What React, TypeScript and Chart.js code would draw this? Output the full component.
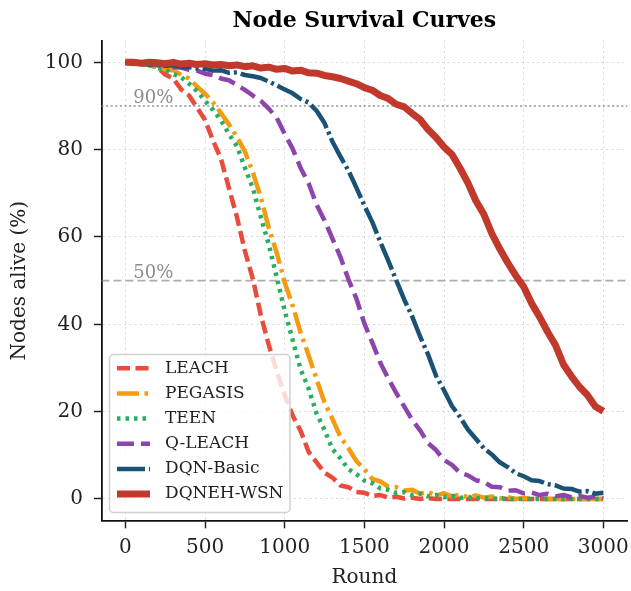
import React, { useEffect, useRef } from "react";
import { Chart, registerables } from "chart.js";

Chart.register(...registerables);

const FONT = "'DejaVu Serif', serif";

const chartTitle = "Node Survival Curves";
const xTitle = "Round";
const yTitle = "Nodes alive (%)";

const xTicks = [0, 500, 1000, 1500, 2000, 2500, 3000];
const yTicks = [0, 20, 40, 60, 80, 100];

const refLevels = [90, 50];
const refLabels = ["90%", "50%"];
const refLabelX = 50;

const rounds = [
  0, 50, 100, 150, 200, 250, 300, 350, 400, 450, 500, 550, 600, 650, 700, 750,
  800, 850, 900, 950, 1000, 1050, 1100, 1150, 1200, 1250, 1300, 1350, 1400,
  1450, 1500, 1550, 1600, 1650, 1700, 1750, 1800, 1850, 1900, 1950, 2000, 2050,
  2100, 2150, 2200, 2250, 2300, 2350, 2400, 2450, 2500, 2550, 2600, 2650, 2700,
  2750, 2800, 2850, 2900, 2950, 3000,
];

const seriesNames = ["LEACH", "PEGASIS", "TEEN", "Q-LEACH", "DQN-Basic", "DQNEH-WSN"];
const seriesColors = ["#e74c3c", "#f39c12", "#27ae60", "#8e44ad", "#1a5276", "#c0392b"];

const leach = [
  100, 99.8, 100, 99.3, 98.9, 97.2, 96.3, 93.8, 92.4, 89.6, 86.8, 82.1, 77.9,
  71.2, 64.6, 56.8, 50.4, 42.1, 35.3, 29.2, 23.8, 19.1, 15.6, 10.8, 8.4, 6.0,
  4.9, 3.1, 2.7, 1.6, 1.4, 0.7, 0.9, 0.3, 0.5, 0.1, 0.3, 0, 0.2, 0, 0, 0, 0, 0,
  0, 0, 0, 0, 0, 0, 0, 0, 0, 0, 0, 0, 0, 0, 0, 0, 0,
];
const pegasis = [
  100, 99.6, 99.9, 99.2, 99.1, 98.3, 98.2, 97.1, 96.3, 94.4, 92.8, 90.8, 88.4,
  85.8, 82.9, 79.6, 74.8, 69.1, 62.1, 56.4, 49.6, 44.3, 38.1, 32.9, 27.4, 22.1,
  18.3, 14.2, 11.6, 8.7, 6.8, 4.6, 4.0, 2.8, 2.7, 1.9, 2.1, 1.2, 1.6, 0.8, 1.3,
  0.6, 1.0, 0.4, 0.8, 0.3, 0.6, 0.1, 0.4, 0, 0.2, 0, 0.1, 0, 0, 0, 0, 0, 0, 0, 0,
];
const teen = [
  100, 99.8, 99.4, 99.6, 98.7, 98.4, 97.3, 96.6, 95.1, 93.4, 91.2, 89.1, 86.7,
  83.6, 80.8, 75.9, 71.2, 64.6, 58.3, 50.8, 43.1, 36.4, 29.7, 25.3, 19.6, 15.8,
  11.4, 9.3, 6.8, 5.7, 4.2, 3.6, 2.4, 2.1, 1.4, 1.6, 0.9, 1.2, 0.6, 0.9, 0.4,
  0.7, 0.2, 0.5, 0.1, 0.3, 0, 0.2, 0, 0, 0, 0, 0, 0, 0, 0, 0, 0, 0, 0, 0,
];
const qleach = [
  100, 99.9, 99.6, 99.8, 99.3, 99.4, 98.9, 98.8, 98.3, 98.1, 97.4, 97.1, 96.3,
  95.9, 94.8, 93.7, 92.4, 91.2, 89.4, 87.3, 83.6, 80.2, 75.8, 72.3, 67.4, 63.8,
  59.6, 55.4, 50.3, 45.9, 40.2, 35.8, 31.2, 27.6, 24.3, 21.2, 18.1, 15.7, 12.8,
  11.2, 8.9, 7.8, 6.0, 5.4, 4.3, 3.9, 2.8, 2.7, 1.9, 2.0, 1.3, 1.5, 0.9, 1.2,
  0.6, 0.9, 0.4, 0.7, 0.3, 0.5, 0.2,
];
const dqnBasic = [
  100, 99.7, 99.9, 99.5, 99.6, 99.2, 99.3, 98.9, 98.9, 98.6, 98.5, 98.1, 98.2,
  97.6, 97.7, 97.1, 96.8, 96.4, 95.6, 94.7, 93.8, 92.9, 91.6, 90.8, 88.9, 86.1,
  81.8, 78.4, 75.2, 71.3, 67.2, 63.4, 58.9, 54.6, 50.1, 45.7, 41.8, 37.2, 33.1,
  28.2, 24.9, 21.3, 18.8, 15.9, 13.8, 11.6, 10.2, 8.4, 7.3, 5.9, 5.2, 4.3, 4.1,
  3.4, 3.1, 2.4, 2.3, 1.7, 1.8, 1.2, 1.4,
];
const dqnehWsn = [
  100, 100, 99.8, 100, 99.9, 99.7, 100, 99.6, 99.8, 99.5, 99.7, 99.4, 99.5,
  99.2, 99.4, 99.0, 99.2, 98.7, 98.9, 98.4, 98.6, 98.0, 98.2, 97.6, 97.5, 97.0,
  96.7, 96.3, 95.7, 95.1, 94.2, 93.6, 92.4, 91.7, 90.4, 89.8, 88.3, 86.9, 84.6,
  82.8, 80.6, 78.9, 75.8, 72.4, 68.3, 65.2, 60.8, 57.3, 54.1, 51.2, 48.6, 44.8,
  41.7, 38.3, 35.2, 30.8, 28.1, 25.7, 23.8, 21.2, 20.1,
];

const seriesValues = [leach, pegasis, teen, qleach, dqnBasic, dqnehWsn];
const seriesDash = [
  [13, 5.5],
  [22, 5.5, 3.5, 5.5],
  [3.5, 5],
  [17, 7],
  [28, 4, 3, 4],
  [],
];
const seriesWidth = [4.5, 4.5, 4.5, 4.5, 4.5, 7];

const titlePlugin = {
  id: "customTitle",
  afterDraw(chart: any) {
    const { ctx, chartArea } = chart;
    ctx.save();
    ctx.font = `bold 22px ${FONT}`;
    ctx.fillStyle = "#000";
    ctx.textAlign = "center";
    ctx.textBaseline = "alphabetic";
    ctx.fillText(chartTitle, (chartArea.left + chartArea.right) / 2, 27);
    ctx.restore();
  },
};

const refLinePlugin = {
  id: "refLines",
  beforeDatasetsDraw(chart: any) {
    const { ctx, chartArea, scales } = chart;
    ctx.save();
    refLevels.forEach((lvl, i) => {
      const py = scales.y.getPixelForValue(lvl);
      ctx.beginPath();
      ctx.setLineDash(i === 0 ? [2, 2.6] : [8, 4]);
      ctx.strokeStyle = "rgba(128,128,128,0.65)";
      ctx.lineWidth = 1.8;
      ctx.moveTo(chartArea.left, py);
      ctx.lineTo(chartArea.right, py);
      ctx.stroke();
      ctx.setLineDash([]);
      ctx.fillStyle = "rgba(128,128,128,0.9)";
      ctx.font = `18px ${FONT}`;
      ctx.textAlign = "left";
      ctx.textBaseline = "alphabetic";
      ctx.fillText(refLabels[i], scales.x.getPixelForValue(refLabelX), py - 2.5);
    });
    ctx.restore();
  },
};

const legendPlugin = {
  id: "customLegend",
  afterDatasetsDraw(chart: any) {
    const { ctx } = chart;
    const bx = 109.5, by = 354.5, bw = 180.5, bh = 158, r = 4;
    ctx.save();
    ctx.beginPath();
    ctx.moveTo(bx + r, by);
    ctx.lineTo(bx + bw - r, by);
    ctx.arcTo(bx + bw, by, bx + bw, by + r, r);
    ctx.lineTo(bx + bw, by + bh - r);
    ctx.arcTo(bx + bw, by + bh, bx + bw - r, by + bh, r);
    ctx.lineTo(bx + r, by + bh);
    ctx.arcTo(bx, by + bh, bx, by + bh - r, r);
    ctx.lineTo(bx, by + r);
    ctx.arcTo(bx, by, bx + r, by, r);
    ctx.closePath();
    ctx.fillStyle = "rgba(255,255,255,0.8)";
    ctx.fill();
    ctx.strokeStyle = "#d0d0d0";
    ctx.lineWidth = 1.5;
    ctx.stroke();
    seriesNames.forEach((name, i) => {
      const y = 368.3 + i * 25.15;
      ctx.beginPath();
      ctx.setLineDash(seriesDash[i]);
      ctx.strokeStyle = seriesColors[i];
      ctx.lineWidth = seriesWidth[i];
      ctx.lineCap = "butt";
      ctx.moveTo(117, y);
      ctx.lineTo(150, y);
      ctx.stroke();
      ctx.setLineDash([]);
      ctx.fillStyle = "#222";
      ctx.font = `17px ${FONT}`;
      ctx.textAlign = "left";
      ctx.textBaseline = "middle";
      ctx.fillText(name, 165, y);
    });
    ctx.restore();
  },
};

export default function App() {
  const canvasRef = useRef<HTMLCanvasElement | null>(null);

  useEffect(() => {
    document.body.style.margin = "0";
    const canvas = canvasRef.current;
    if (!canvas) return;
    const datasets = seriesNames.map((name, i) => ({
      label: name,
      data: rounds.map((r, j) => ({ x: r, y: seriesValues[i][j] })),
      borderColor: seriesColors[i],
      backgroundColor: seriesColors[i],
      borderWidth: seriesWidth[i],
      borderDash: seriesDash[i],
      borderCapStyle: "butt" as const,
      borderJoinStyle: "round" as const,
      pointRadius: 0,
      tension: 0,
      fill: false,
      order: seriesNames.length - i,
    }));
    const chart = new Chart(canvas, {
      type: "line",
      data: { datasets },
      options: {
        animation: false,
        responsive: false,
        devicePixelRatio: 1,
        layout: { padding: { top: 40.5, right: 3.8, bottom: 0, left: 0 } },
        plugins: {
          legend: { display: false },
          tooltip: { enabled: false },
          title: { display: false },
        },
        scales: {
          x: {
            type: "linear",
            min: -150,
            max: 3150,
            afterBuildTicks: (axis: any) => {
              axis.ticks = xTicks.map((v) => ({ value: v }));
            },
            afterFit: (axis: any) => {
              axis.height = 70.2;
              axis.paddingLeft = 0;
              axis.paddingRight = 0;
            },
            ticks: {
              font: { family: FONT, size: 20 },
              color: "#222",
              padding: 7,
              maxRotation: 0,
              autoSkip: false,
              callback: (v: any) => String(v),
            },
            grid: {
              color: "rgba(200,200,200,0.7)",
              lineWidth: 1,
              tickColor: "#222",
              tickLength: 7.5,
              tickWidth: 1.5,
            },
            border: { display: true, color: "#111", width: 1.8, dash: [2, 3.3] },
            title: {
              display: true,
              text: xTitle,
              font: { family: FONT, size: 20 },
              color: "#222",
              padding: { top: 0, bottom: 1 },
            },
          },
          y: {
            type: "linear",
            min: -5,
            max: 105,
            afterBuildTicks: (axis: any) => {
              axis.ticks = yTicks.map((v) => ({ value: v }));
            },
            afterFit: (axis: any) => {
              axis.width = 101.5;
              axis.paddingTop = 0;
              axis.paddingBottom = 0;
            },
            ticks: {
              font: { family: FONT, size: 20 },
              color: "#222",
              padding: 11,
              callback: (v: any) => String(v),
            },
            grid: {
              color: "rgba(200,200,200,0.7)",
              lineWidth: 1,
              tickColor: "#222",
              tickLength: 7.5,
              tickWidth: 1.5,
            },
            border: { display: true, color: "#111", width: 1.8, dash: [2, 3.3] },
            title: {
              display: true,
              text: yTitle,
              font: { family: FONT, size: 20 },
              color: "#222",
              padding: { top: 8, bottom: 0 },
            },
          },
        },
      },
      plugins: [refLinePlugin, legendPlugin, titlePlugin],
    });
    return () => chart.destroy();
  }, []);

  return (
    <div style={{ width: 631, height: 591 }}>
      <canvas ref={canvasRef} width={631} height={591} style={{ display: "block" }} />
    </div>
  );
}
